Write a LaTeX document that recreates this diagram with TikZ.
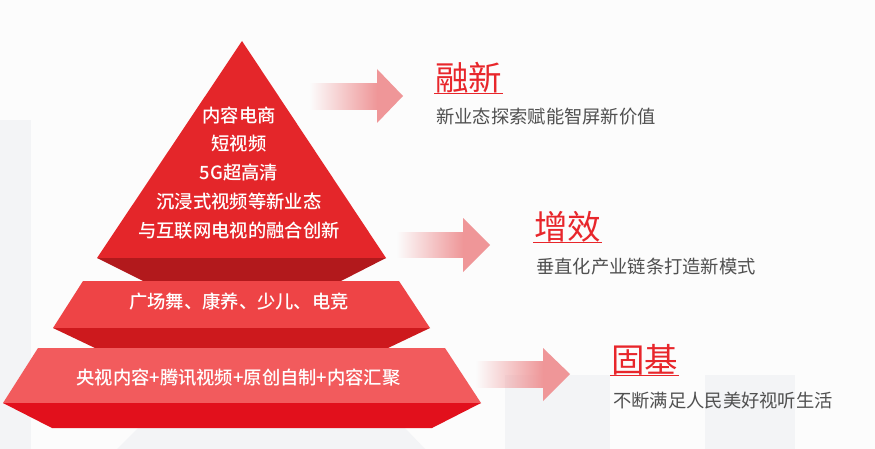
\documentclass[tikz,border=0pt]{standalone}
\usepackage{fontspec}
\newfontfamily\cjk{Noto Sans CJK SC}
\newfontfamily\cjkmed{Noto Sans CJK SC Medium}
\usepackage{tikz}
\usetikzlibrary{fadings}

\definecolor{pagebg}{RGB}{252,252,252}
\definecolor{panelgray}{RGB}{243,244,246}
\definecolor{topface}{RGB}{228,38,42}
\definecolor{topside}{RGB}{178,25,28}
\definecolor{midface}{RGB}{238,68,70}
\definecolor{midside}{RGB}{205,25,29}
\definecolor{baseface}{RGB}{242,91,93}
\definecolor{baseside}{RGB}{226,16,28}
\definecolor{arrowpink}{RGB}{239,150,152}
\definecolor{headred}{RGB}{232,38,43}
\definecolor{subgray}{RGB}{80,80,80}

\tikzset{
  tiertext/.style={font=\cjkmed\fontsize{18.3}{28.8}\selectfont, text=white, inner sep=0pt},
  headtext/.style={font=\cjk\fontsize{33.5}{36}\selectfont, text=headred, anchor=west, inner xsep=1pt, inner ysep=0pt},
  subtext/.style={font=\cjk\fontsize{18.3}{20}\selectfont, text=subgray, anchor=west, inner sep=0pt},
  headline/.style={draw=headred, line width=1.6pt}
}

\begin{document}
\begin{tikzpicture}[x=1pt,y=-1pt]
		    \useasboundingbox[fill=pagebg] (0,0) rectangle (875,449);

		    % light panels behind
		    \fill[panelgray] (0,120) rectangle (31,449);
		    \fill[panelgray] (505,375) rectangle (610,449);
		    \fill[panelgray] (705,375) rectangle (795,449);
		    \fill[panelgray] (117,449) -- (138,428) -- (405,428) -- (425,449) -- cycle;

		    % pyramid
		    \fill[topface] (242,41) -- (386,258) -- (97,258) -- cycle;
		    \fill[topside] (97,258) -- (386,258) -- (341,281) -- (143,281) -- cycle;

		    \fill[midface] (83,281) -- (399,281) -- (430,328) -- (53,328) -- cycle;
		    \fill[midside] (53,328) -- (430,328) -- (388,348) -- (95,348) -- cycle;

		    \fill[baseface] (38,348) -- (445,348) -- (481,403) -- (3,403) -- cycle;
		    \fill[baseside] (3,403) -- (481,403) -- (432,428) -- (52,428) -- cycle;

		    \node[tiertext] (toptier) at (239,174){\begin{tabular}{c}内容电商\\短视频\\5G超高清\\沉浸式视频等新业态\\与互联网电视的融合创新\end{tabular}};
		    \node[tiertext] (midtier) at (239,302){广场舞、康养、少儿、电竞};
		    \node[tiertext] (basetier) at (238.5,378){央视内容+腾讯视频+原创自制+内容汇聚};

		    % arrows
		    \fill[arrowpink, path fading=west] (310,83) rectangle (377.5,110);
		    \fill[arrowpink] (377,69) -- (403,96) -- (377,123) -- cycle;

		    \fill[arrowpink, path fading=west] (397,232) rectangle (463.5,258);
		    \fill[arrowpink] (463,218) -- (490,245) -- (463,272) -- cycle;

		    \fill[arrowpink, path fading=west] (476,361) rectangle (543.5,388);
		    \fill[arrowpink] (543,348) -- (570,374) -- (543,401) -- cycle;

		    % right side labels
		    \node[headtext] (rongxin) at (434,78){融新};
		    \draw[headline] (rongxin.south west) -- (rongxin.south east);
		    \node[subtext] (rongxinsub) at (436,117){新业态探索赋能智屏新价值};

		    \node[headtext] (zengxiao) at (533,227){增效};
		    \draw[headline] (zengxiao.south west) -- (zengxiao.south east);
		    \node[subtext] (zengxiaosub) at (536,267){垂直化产业链条打造新模式};

		    \node[headtext] (guji) at (610,360){固基};
		    \draw[headline] (guji.south west) -- (guji.south east);
		    \node[subtext] (gujisub) at (613,401){不断满足人民美好视听生活};
	    \end{tikzpicture}
\end{document}
